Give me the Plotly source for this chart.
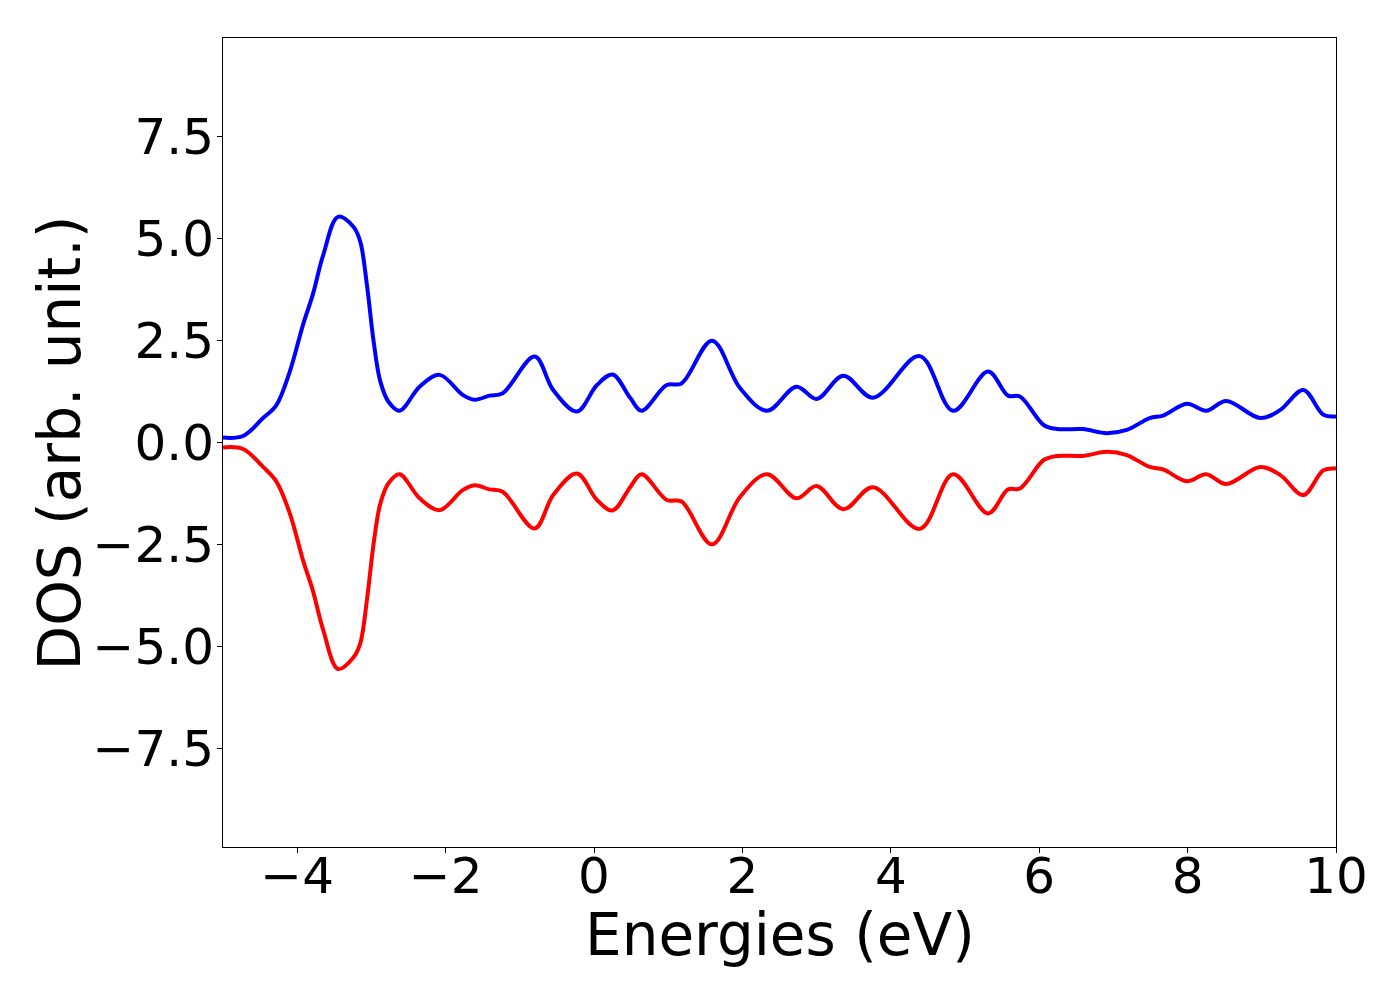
import plotly.graph_objects as go

energies = [-5.0, -4.73, -4.46, -4.28, -4.10, -3.92, -3.79, -3.65, -3.45, -3.24, -3.15, -3.06, -2.97,
            -2.88, -2.77, -2.62, -2.35, -2.08, -1.77, -1.61, -1.41, -1.23, -0.80, -0.55, -0.23, 0.04,
            0.25, 0.49, 0.64, 0.98, 1.18, 1.59, 1.97, 2.33, 2.73, 3.0, 3.36, 3.76, 4.39, 4.84, 5.31,
            5.58, 5.74, 6.06, 6.24, 6.59, 6.91, 7.18, 7.49, 7.67, 7.99, 8.25, 8.52, 8.98, 9.25, 9.56,
            9.83, 10.0]

dos_up = [0.12, 0.16, 0.60, 0.92, 1.74, 2.90, 3.63, 4.60, 5.54, 5.29, 4.93, 3.86, 2.48,
          1.50, 1.00, 0.78, 1.37, 1.66, 1.17, 1.05, 1.15, 1.21, 2.11, 1.29, 0.76, 1.41,
          1.67, 1.09, 0.78, 1.41, 1.45, 2.50, 1.33, 0.78, 1.37, 1.07, 1.64, 1.10, 2.12, 0.78, 1.74,
          1.15, 1.13, 0.43, 0.33, 0.33, 0.23, 0.31, 0.60, 0.66, 0.95, 0.78, 1.02, 0.60, 0.80, 1.29,
          0.68, 0.64]

dos_down = [-0.12, -0.16, -0.60, -0.96, -1.74, -2.90, -3.63, -4.60, -5.56, -5.27, -4.93, -3.86, -2.48,
            -1.50, -1.00, -0.78, -1.37, -1.66, -1.17, -1.05, -1.15, -1.21, -2.11, -1.29, -0.76, -1.41,
            -1.67, -1.09, -0.78, -1.41, -1.45, -2.50, -1.33, -0.78, -1.37, -1.07, -1.64, -1.10, -2.12, -0.78, -1.74,
            -1.15, -1.13, -0.43, -0.33, -0.33, -0.23, -0.31, -0.60, -0.66, -0.95, -0.78, -1.02, -0.60, -0.80, -1.29,
            -0.68, -0.64]

x_ticks = [-4, -2, 0, 2, 4, 6, 8, 10]
y_ticks = [-7.5, -5.0, -2.5, 0.0, 2.5, 5.0, 7.5]

x_title = "Energies (eV)"
y_title = "DOS (arb. unit.)"

fig = go.Figure()
fig.add_trace(go.Scatter(x=energies, y=dos_up, mode="lines",
                         line=dict(color="blue", width=4, shape="spline", smoothing=1.0),
                         showlegend=False))
fig.add_trace(go.Scatter(x=energies, y=dos_down, mode="lines",
                         line=dict(color="red", width=4, shape="spline", smoothing=1.0),
                         showlegend=False))

font_family = "DejaVu Sans"
fig.update_layout(
    width=1400, height=1000,
    margin=dict(l=215, r=72, t=30, b=161),
    paper_bgcolor="white", plot_bgcolor="white",
    font=dict(family=font_family, color="black"),
    xaxis=dict(range=[-5, 10], tickvals=x_ticks, ticks="outside", ticklen=5, tickwidth=1,
               tickcolor="black", showline=True, linecolor="black", linewidth=1, mirror=True,
               showgrid=False, zeroline=False, tickfont=dict(size=50, family=font_family),
               ticklabelstandoff=-20),
    yaxis=dict(range=[-9.93, 9.93], tickvals=y_ticks, tickformat=".1f", ticks="outside", ticklen=5,
               tickwidth=1, tickcolor="black", showline=True, linecolor="black", linewidth=1,
               mirror=True, showgrid=False, zeroline=False, tickfont=dict(size=50, family=font_family),
               ticklabelstandoff=-7),
    annotations=[
        dict(text=x_title, xref="paper", yref="paper", x=0.5, y=-0.1088,
             xanchor="center", yanchor="middle", showarrow=False,
             font=dict(size=58, family=font_family, color="black")),
        dict(text=y_title, xref="paper", yref="paper", x=-0.1465, y=0.5,
             xanchor="center", yanchor="middle", textangle=-90, showarrow=False,
             font=dict(size=58, family=font_family, color="black")),
    ],
)

fig.write_html("out.html")
